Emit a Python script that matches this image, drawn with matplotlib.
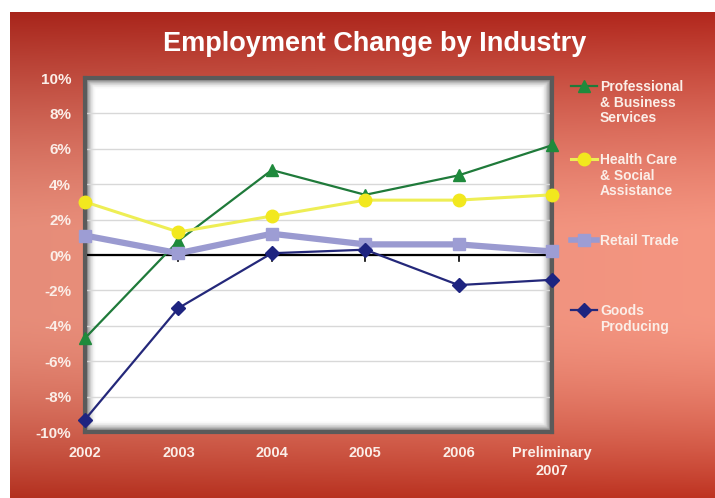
import numpy as np
import matplotlib
matplotlib.use("Agg")
import matplotlib.pyplot as plt
from matplotlib.lines import Line2D

plt.rcParams['font.family'] = ['Liberation Sans', 'DejaVu Sans']

# ---- data ----
years = ["2002", "2003", "2004", "2005", "2006", "Preliminary\n2007"]
professional = [-4.7, 0.8, 4.8, 3.4, 4.5, 6.2]
health_care = [3.0, 1.3, 2.2, 3.1, 3.1, 3.4]
retail = [1.1, 0.1, 1.2, 0.6, 0.6, 0.2]
goods = [-9.3, -3.0, 0.1, 0.3, -1.7, -1.4]
y_ticks = [-10, -8, -6, -4, -2, 0, 2, 4, 6, 8, 10]

series = [
    ("Professional\n& Business\nServices", professional,
     dict(color="#1f7a3a", lw=1.6, marker="^", ms=8, mfc="#1f8a3c", mec="#1f8a3c")),
    ("Health Care\n& Social\nAssistance", health_care,
     dict(color="#eeee55", lw=2.2, marker="o", ms=9, mfc="#f2e81e", mec="#f2e81e")),
    ("Retail Trade", retail,
     dict(color="#9a9ad0", lw=4.5, marker="s", ms=9, mfc="#9d9dd4", mec="#9d9dd4")),
    ("Goods\nProducing", goods,
     dict(color="#24287a", lw=1.6, marker="D", ms=7, mfc="#1e2480", mec="#1e2480")),
]

W, H = 715, 498
fig = plt.figure(figsize=(W / 100, H / 100), dpi=100)
fig.patch.set_facecolor("white")

# ---- red gradient backdrop ----
bg = fig.add_axes([10 / W, 0, 1 - 10 / W, 1 - 12 / H], zorder=-10)
bg.set_axis_off()
ny, nx = 300, 200
yy = np.linspace(0, 1, ny)[:, None]
xx = np.linspace(0, 1, nx)[None, :]
top = np.array([0.69, 0.15, 0.11])
mid = np.array([0.95, 0.58, 0.50])
bot = np.array([0.74, 0.20, 0.13])
t = yy  # 0 at top
w_top = np.clip(1 - t / 0.45, 0, 1) ** 1.3
w_bot = np.clip((t - 0.62) / 0.38, 0, 1) ** 1.6
w_mid = 1 - w_top - w_bot
img = (w_top[..., None] * top + w_mid[..., None] * mid + w_bot[..., None] * bot)
img = img * np.ones((ny, nx, 1))
img = img * (0.95 + 0.06 * xx[..., None])
bg.imshow(np.clip(img, 0, 1), aspect="auto", extent=[0, 1, 0, 1])

# ---- plot area ----
x0, x1, y_top, y_bot = 85, 552, 78, 432
ax = fig.add_axes([x0 / W, 1 - y_bot / H, (x1 - x0) / W, (y_bot - y_top) / H])
ax.set_facecolor("white")
x = np.arange(len(years))
ax.set_xlim(0, len(years) - 1)
ax.set_ylim(-10, 10)

# inner shadow along the frame
sh = np.zeros((200, 300, 4))
py = np.linspace(0, 1, 200)[:, None] * (y_bot - y_top)
px = np.linspace(0, 1, 300)[None, :] * (x1 - x0)
d = np.minimum(np.minimum(py, (y_bot - y_top) - py), np.minimum(px, (x1 - x0) - px))
sh[..., 3] = np.clip(1 - d / 11.0, 0, 1) ** 2 * 0.6
ax.imshow(sh, aspect="auto", extent=[0, len(years) - 1, -10, 10], zorder=0.5)

for yv in y_ticks:
    ax.axhline(yv, color="#d8d8d8", lw=1.0, zorder=1)
ax.axhline(0, color="black", lw=1.6, zorder=2)
for xi in x[1:-1]:
    ax.plot([xi, xi], [0, -0.35], color="black", lw=1.2, zorder=2)

for name, vals, st in series:
    ax.plot(x, vals, clip_on=False, zorder=4, **st)

for s in ax.spines.values():
    s.set_color("#5a5a5a")
    s.set_linewidth(3)
ax.set_xticks(x)
ax.set_xticklabels(years, fontsize=10.5, fontweight="bold", color="#fbeee8",
                   linespacing=1.4)
ax.set_yticks(y_ticks)
ax.set_yticklabels([f"{v}%" for v in y_ticks], fontsize=11, fontweight="bold",
                   color="#fbeee8")
ax.tick_params(length=0, pad=10)
ax.tick_params(axis="y", pad=10)

# ---- title ----
fig.text(0.524, 1 - 44 / H, "Employment Change by Industry", ha="center",
         va="center", fontsize=19.5, fontweight="bold", color="white")

# ---- legend ----
leg_y = [86, 159, 240, 310]
for (name, vals, st), yp in zip(series, leg_y):
    yf = 1 - yp / H
    fig.add_artist(Line2D([571 / W, 597 / W], [yf, yf], transform=fig.transFigure,
                          color=st["color"], lw=min(st["lw"], 4)))
    fig.add_artist(Line2D([584 / W], [yf], transform=fig.transFigure,
                          marker=st["marker"], ms=st["ms"], color=st["mfc"],
                          mec=st["mec"], lw=0))
    fig.text(600 / W, yf + 6 / H, name, ha="left", va="top", fontsize=10,
             fontweight="bold", color="#fbeee8", linespacing=1.15)

fig.savefig("out.png", dpi=100)
